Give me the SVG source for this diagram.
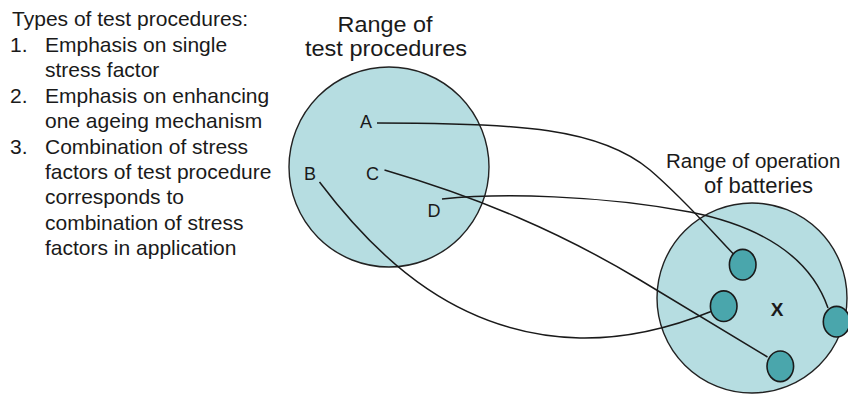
<svg xmlns="http://www.w3.org/2000/svg" width="848" height="403" viewBox="0 0 848 403">
  <style>
    text { font-family: "Liberation Sans", Arial, Helvetica, sans-serif; fill: #1a1a1a; }
    .body { font-size: 21px; }
    .title { font-size: 22.5px; text-anchor: middle; }
    .title2 { font-size: 22px; }
    .lbl { font-size: 18px; text-anchor: middle; }
    .x { font-size: 19px; font-weight: bold; text-anchor: middle; }
    .range { fill: #b6dde1; stroke: #222; stroke-width: 1.4; }
    .pt { fill: #4aa6ac; stroke: #1a1a1a; stroke-width: 1.6; }
    .conn { fill: none; stroke: #1a1a1a; stroke-width: 1.5; }
  </style>

  <g id="legend">
    <text class="body" x="12" y="26" textLength="236" lengthAdjust="spacingAndGlyphs">Types of test procedures:</text>
    <text class="body" x="10" y="51.5">1.</text>
    <text class="body" x="45" y="51.5">Emphasis on single</text>
    <text class="body" x="45" y="77">stress factor</text>
    <text class="body" x="10" y="102.5">2.</text>
    <text class="body" x="45" y="102.5">Emphasis on enhancing</text>
    <text class="body" x="45" y="128">one ageing mechanism</text>
    <text class="body" x="10" y="153.5">3.</text>
    <text class="body" x="45" y="153.5">Combination of stress</text>
    <text class="body" x="45" y="179">factors of test procedure</text>
    <text class="body" x="45" y="204">corresponds to</text>
    <text class="body" x="45" y="229.5">combination of stress</text>
    <text class="body" x="45" y="255">factors in application</text>
  </g>

  <g id="test-procedures">
    <text class="title" x="385" y="32" textLength="95" lengthAdjust="spacingAndGlyphs">Range of</text>
    <text class="title" x="386" y="56" textLength="162" lengthAdjust="spacingAndGlyphs">test procedures</text>
    <circle class="range" cx="389" cy="167" r="100"/>
    <text class="lbl" x="366" y="128">A</text>
    <text class="lbl" x="310" y="180">B</text>
    <text class="lbl" x="372.5" y="180">C</text>
    <text class="lbl" x="434" y="217">D</text>
  </g>

  <g id="battery-operation">
    <text class="title2" x="666" y="168" style="font-size:20.5px">Range of operation</text>
    <text class="title2" x="758.5" y="192.5" text-anchor="middle">of batteries</text>
    <circle class="range" cx="752" cy="298" r="95"/>
    <text class="x" x="777" y="316">X</text>
  </g>

  <g id="connectors">
    <path class="conn" d="M377,123 C520,123 600,128 650,170 C685,200 715,235 733.5,254"/>
    <path class="conn" d="M319.5,182 C380,262 460,335 580,338 C640,339 690,320 711,311.5"/>
    <path class="conn" d="M384.5,170 C480,198 560,232 640,280 C700,316 740,340 767.5,357"/>
    <path class="conn" d="M442,199 C500,193 600,195 690,212 C770,228 812,262 828,308"/>
  </g>

  <g id="point-a"><ellipse class="pt" cx="742.7" cy="264.7" rx="13.3" ry="15.3"/></g>
  <g id="point-b"><ellipse class="pt" cx="723.7" cy="306.2" rx="13.3" ry="15.3"/></g>
  <g id="point-d"><ellipse class="pt" cx="836.6" cy="321.7" rx="13.3" ry="15.3"/></g>
  <g id="point-c"><ellipse class="pt" cx="780.3" cy="366.3" rx="13.3" ry="15.3"/></g>
</svg>
